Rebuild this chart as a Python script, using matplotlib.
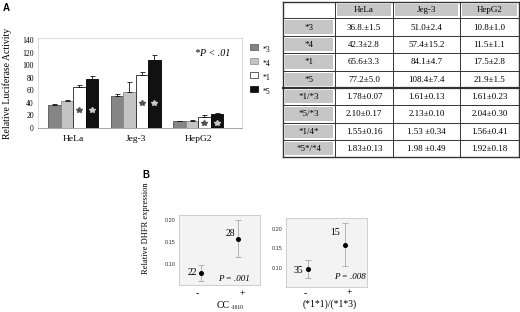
import matplotlib
matplotlib.use("Agg")
import matplotlib.pyplot as plt
from matplotlib.patches import Rectangle
import numpy as np

plt.rcParams['font.family'] = ['Liberation Serif', 'DejaVu Serif']

# ---------------- data ----------------
cell_lines = ["HeLa", "Jeg-3", "HepG2"]
alleles = ["*3", "*4", "*1", "*5"]
means_3 = [36.8, 51.0, 10.8]
means_4 = [42.3, 57.4, 11.5]
means_1 = [65.6, 84.1, 17.5]
means_5 = [77.2, 108.4, 21.9]
errs_3 = [1.5, 2.4, 1.0]
errs_4 = [2.8, 15.2, 1.1]
errs_1 = [3.3, 4.7, 2.8]
errs_5 = [5.0, 7.4, 1.5]
star_y = [28, 40, 8]
bar_yticks = [0, 20, 40, 60, 80, 100, 120, 140]

table_rows = ["*3", "*4", "*1", "*5", "*1/*3", "*5/*3", "*1/4*", "*5*/*4"]
table_text = [
    ["36.8.±1.5", "51.0±2.4", "10.8±1.0"],
    ["42.3±2.8", "57.4±15.2", "11.5±1.1"],
    ["65.6±3.3", "84.1±4.7", "17.5±2.8"],
    ["77.2±5.0", "108.4±7.4", "21.9±1.5"],
    ["1.78±0.07", "1.61±0.13", "1.61±0.23"],
    ["2.10±0.17", "2.13±0.10", "2.04±0.30"],
    ["1.55±0.16", "1.53 ±0.34", "1.56±0.41"],
    ["1.83±0.13", "1.98 ±0.49", "1.92±0.18"],
]

b_groups = ["-", "+"]
b1_means = [0.080, 0.157]
b1_errs = [0.018, 0.042]
b1_n = ["22", "28"]
b2_means = [0.097, 0.160]
b2_errs = [0.023, 0.054]
b2_n = ["35", "15"]
b_yticks = [0.10, 0.15, 0.20]

# ---------------- layout helpers ----------------
W, H = 520, 312
fig = plt.figure(figsize=(W / 100, H / 100), dpi=100)


def px_axes(x0, y0, x1, y1):
    return fig.add_axes([x0 / W, 1 - y1 / H, (x1 - x0) / W, (y1 - y0) / H])


# ---------------- panel A bar chart ----------------
ax = px_axes(38, 38, 242, 128)
means = [means_3, means_4, means_1, means_5]
errs = [errs_3, errs_4, errs_1, errs_5]
colors = ["#858585", "#c4c4c4", "#ffffff", "#111111"]
edges = ["#555555", "#888888", "#222222", "#000000"]
xc = np.arange(len(cell_lines))
bw = 0.2
for i in range(4):
    xs = xc + (i - 1.5) * bw
    ax.bar(xs, means[i], width=bw, color=colors[i], edgecolor=edges[i],
           linewidth=0.6, zorder=2)
    ax.errorbar(xs, means[i], yerr=[np.zeros(3), errs[i]], fmt='none',
                ecolor='#111111', elinewidth=0.6, capsize=1.8, capthick=0.6,
                zorder=3)
ax.plot(xc + 0.5 * bw, star_y, ls='none', marker='*', ms=4.2,
        color='#505050', zorder=4)
ax.plot(xc + 1.5 * bw, star_y, ls='none', marker='*', ms=4.2,
        color='#c8c8c8', zorder=4)
ax.set_xlim(-0.56, 2.7)
ax.set_ylim(0, 143.2)
ax.set_yticks(bar_yticks)
ax.set_yticklabels([str(v) for v in bar_yticks], fontsize=5.5)
ax.set_xticks(xc)
ax.set_xticklabels(cell_lines, fontsize=6.8)
ax.tick_params(axis='both', length=0, pad=3)
ax.tick_params(axis='x', pad=5)
for s in ax.spines.values():
    s.set_color('#d4d4d4')
    s.set_linewidth(0.6)
ax.spines['bottom'].set_color('#999999')

# ---------------- panel B plots ----------------
def b_panel(rect, m, e, n, ylim, ntext_pos, ptext, ppos):
    a = px_axes(*rect)
    a.set_facecolor('#f3f3f3')
    x = np.arange(2)
    a.errorbar(x, m, yerr=e, fmt='none', ecolor='#a8a8a8', elinewidth=0.6,
               capsize=2.5, capthick=0.6, zorder=2)
    a.plot(x, m, ls='none', marker='o', ms=2.6, color='black', zorder=3)
    for (tx, ty), lab in zip(ntext_pos, n):
        a.text(tx, ty, lab, ha='right', va='center', fontsize=7)
    a.text(ppos[0], ppos[1], ptext, transform=a.transAxes, ha='right',
           va='center', fontsize=6.5, style='italic')
    a.set_xlim(-0.6, 1.6)
    a.set_ylim(*ylim)
    a.set_yticks(b_yticks)
    a.set_yticklabels(["%.2f" % v for v in b_yticks], fontsize=4,
                      family='Liberation Sans', color='#333333')
    a.set_xticks([])
    a.tick_params(axis='y', length=0, pad=2.5)
    for s in a.spines.values():
        s.set_color('#c8c8c8')
        s.set_linewidth(0.6)
    return a


b_panel((179, 215, 260, 285), b1_means, b1_errs, b1_n, (0.052, 0.211),
        [(-0.1, b1_means[0]), (0.93, b1_means[1] + 0.013)],
        "P = .001", (0.88, 0.09))
b_panel((286, 218, 367, 287), b2_means, b2_errs, b2_n, (0.051, 0.228),
        [(-0.14, b2_means[0] - 0.003), (0.87, b2_means[1] + 0.03)],
        "P = .008", (0.98, 0.145))

# ---------------- overlay: labels, legend, table ----------------
ov = fig.add_axes([0, 0, 1, 1])
ov.set_xlim(0, W)
ov.set_ylim(H, 0)
ov.axis('off')

ov.text(3, 8, "A", fontsize=7, fontweight='bold', family='Liberation Sans',
        ha='left', va='center')
ov.text(7, 83, "Relative Luciferase Activity", rotation=90, fontsize=7,
        ha='center', va='center')
ov.text(213, 53, "*P < .01", fontsize=7.2, style='italic', ha='center',
        va='center')

# legend
leg_y = [47, 61, 75, 89]
for lab, c, ec, y in zip(alleles, colors, edges, leg_y):
    ov.add_patch(Rectangle((250, y - 3), 8, 6, facecolor=c, edgecolor=ec,
                           linewidth=0.5))
    ov.text(263, y + 2.5, lab, fontsize=5.5, ha='left', va='center')

# table
col_x = [283, 335, 393, 460, 519]
row_y = [2, 18, 36, 53, 71, 88, 105, 123, 140, 157]
grey = "#c6c6c6"
inset = 1.6
for j in range(1, 4):
    ov.add_patch(Rectangle((col_x[j] + inset, row_y[0] + inset),
                           col_x[j + 1] - col_x[j] - 2 * inset,
                           row_y[1] - row_y[0] - 2 * inset,
                           facecolor=grey, edgecolor='none'))
    ov.text((col_x[j] + col_x[j + 1]) / 2, (row_y[0] + row_y[1]) / 2 + 0.5,
            cell_lines[j - 1], fontsize=6.5, ha='center', va='center')
for i, lab in enumerate(table_rows):
    y0, y1 = row_y[i + 1], row_y[i + 2]
    ov.add_patch(Rectangle((col_x[0] + inset, y0 + inset),
                           col_x[1] - col_x[0] - 2 * inset, y1 - y0 - 2 * inset,
                           facecolor=grey, edgecolor='none'))
    ov.text((col_x[0] + col_x[1]) / 2, (y0 + y1) / 2 + 0.5, lab, fontsize=6.5,
            ha='center', va='center')
    for j in range(3):
        ov.text((col_x[j + 1] + col_x[j + 2]) / 2, (y0 + y1) / 2 + 0.5,
                table_text[i][j], fontsize=6.5, ha='center', va='center')
for y in row_y:
    lw = 1.6 if y == row_y[5] else 0.7
    if y in (row_y[0], row_y[-1]):
        lw = 1.0
    ov.plot([col_x[0], col_x[-1]], [y, y], color='#333333', lw=lw)
for x in col_x:
    lw = 1.0 if x in (col_x[0], col_x[-1]) else 0.7
    ov.plot([x, x], [row_y[0], row_y[-1]], color='#333333', lw=lw)

# panel B texts
ov.text(146, 175, "B", fontsize=7, fontweight='bold', family='Liberation Sans',
        ha='center', va='center')
ov.text(146, 228, "Relative DHFR expression", rotation=90, fontsize=6,
        ha='center', va='center')
ov.text(197, 294, b_groups[0], fontsize=7, ha='center', va='center')
ov.text(242, 294, b_groups[1], fontsize=7, ha='center', va='center')
ov.text(217, 305, "CC", fontsize=7, ha='left', va='center')
ov.text(231, 307.5, "-1610", fontsize=4, ha='left', va='center')
ov.text(305, 294, b_groups[0], fontsize=7, ha='center', va='center')
ov.text(349, 293, b_groups[1], fontsize=7, ha='center', va='center')
ov.text(330, 304, "(*1*1)/(*1*3)", fontsize=7, ha='center', va='center')

fig.savefig("out.png", dpi=100)
